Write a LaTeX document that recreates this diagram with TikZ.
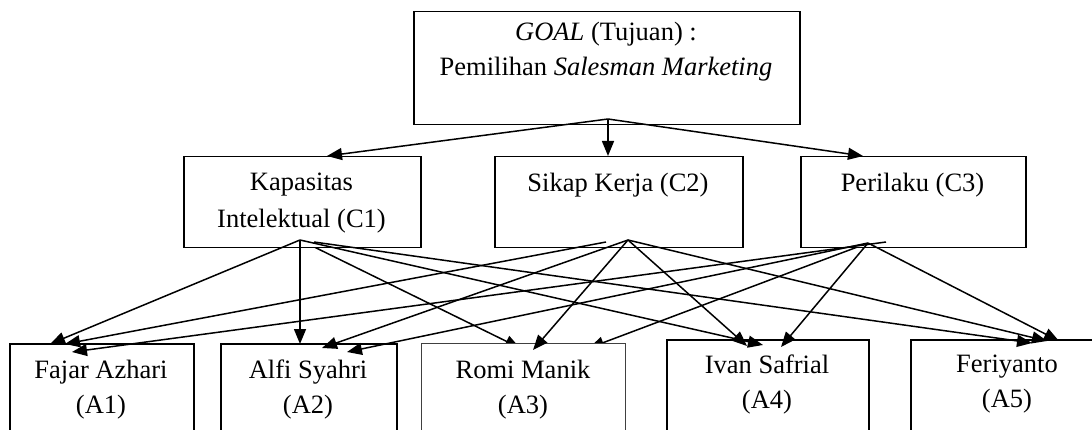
\documentclass[tikz,border=0pt]{standalone}
\usepackage{fontspec}
\setmainfont{Liberation Serif}
\usetikzlibrary{arrows.meta}
\begin{document}
\begin{tikzpicture}[x=1pt,y=-1pt,
  box/.style={draw, line width=1.5pt, fill=white, inner sep=0pt, anchor=north west},
  thinbox/.style={draw=black!75, line width=1pt, fill=white, inner sep=0pt, anchor=north west},
  lbl/.style={font=\fontsize{26.5}{35}\selectfont, align=center, inner sep=0pt},
  conn/.style={line width=1.5pt, -{Triangle[length=15pt,width=12pt]}}]
\useasboundingbox (0,0) rectangle (1092,430);
\clip (0,0) rectangle (1092,430);

% source points
\coordinate (go) at (608,119);
\coordinate (c1o) at (300,240);
\coordinate (c1r) at (314,242);
\coordinate (c2o) at (628,240);
\coordinate (c2l) at (606,242);
\coordinate (c3o) at (868,243);
\coordinate (c3r) at (886,242);
% arrow ends
\coordinate (g1) at (327,156);
\coordinate (g2) at (608,156);
\coordinate (g3) at (863,156);
\coordinate (t11) at (50,344);
\coordinate (t21) at (65,344);
\coordinate (t31) at (72,352);
\coordinate (t12) at (300,344);
\coordinate (t22) at (322,348);
\coordinate (t32) at (347,352);
\coordinate (t13) at (520,348);
\coordinate (t23) at (533,350);
\coordinate (t33) at (589,348);
\coordinate (t14) at (763,345);
\coordinate (t24) at (747,346);
\coordinate (t34) at (781,347);
\coordinate (t15) at (1032,343);
\coordinate (t25) at (1047,341);
\coordinate (t35) at (1059,341);

% arrows hidden behind the A3 box
\draw[conn] (c1o) -- (t13);
\draw[conn] (c3o) -- (t33);

% boxes
\node[box, minimum width=386, minimum height=113] (goal) at (413,11) {};
\node[box, minimum width=237, minimum height=91] (c1) at (183,156) {};
\node[box, minimum width=248, minimum height=91] (c2) at (494,156) {};
\node[box, minimum width=225, minimum height=91] (c3) at (800,156) {};
\node[box, minimum width=184, minimum height=93] (a1) at (9,343) {};
\node[box, minimum width=176, minimum height=93] (a2) at (220,343) {};
\node[thinbox, minimum width=204, minimum height=93] (a3) at (421,343) {};
\node[box, minimum width=202, minimum height=91] (a4) at (666,339) {};
\node[box, minimum width=194, minimum height=91] (a5) at (910,339) {};

% labels
\node[lbl] (goalt) at (606,51.5) {\textit{GOAL} (Tujuan) :\\Pemilihan \textit{Salesman Marketing}};
\node[lbl, font=\fontsize{26.5}{37}\selectfont] (c1t) at (301.5,203.5) {Kapasitas\\Intelektual (C1)};
\node[lbl] (c2t) at (618,185) {Sikap Kerja (C2)};
\node[lbl] (c3t) at (912.5,185) {Perilaku (C3)};
\node[lbl] (a1t) at (101,389.5) {Fajar Azhari\\(A1)};
\node[lbl] (a2t) at (308,389.5) {Alfi Syahri\\(A2)};
\node[lbl] (a3t) at (523,389.5) {Romi Manik\\(A3)};
\node[lbl] (a4t) at (767,384.5) {Ivan Safrial\\(A4)};
\node[lbl] (a5t) at (1007,384.5) {Feriyanto\\(A5)};

% goal arrows
\draw[conn] (go) -- (g1);
\draw[conn] (go) -- (g2);
\draw[conn] (go) -- (g3);

% C1 arrows
\draw[conn] (c1o) -- (t11);
\draw[conn] (c1o) -- (t12);
\draw[conn] (c1o) -- (t14);
\draw[conn] (c1r) -- (t15);
% C2 arrows
\draw[conn] (c2l) -- (t21);
\draw[conn] (c2o) -- (t22);
\draw[conn] (c2o) -- (t23);
\draw[conn] (c2o) -- (t24);
\draw[conn] (c2o) -- (t25);
% C3 arrows
\draw[conn] (c3r) -- (t31);
\draw[conn] (c3o) -- (t32);
\draw[conn] (c3o) -- (t34);
\draw[conn] (c3o) -- (t35);
\end{tikzpicture}
\end{document}
